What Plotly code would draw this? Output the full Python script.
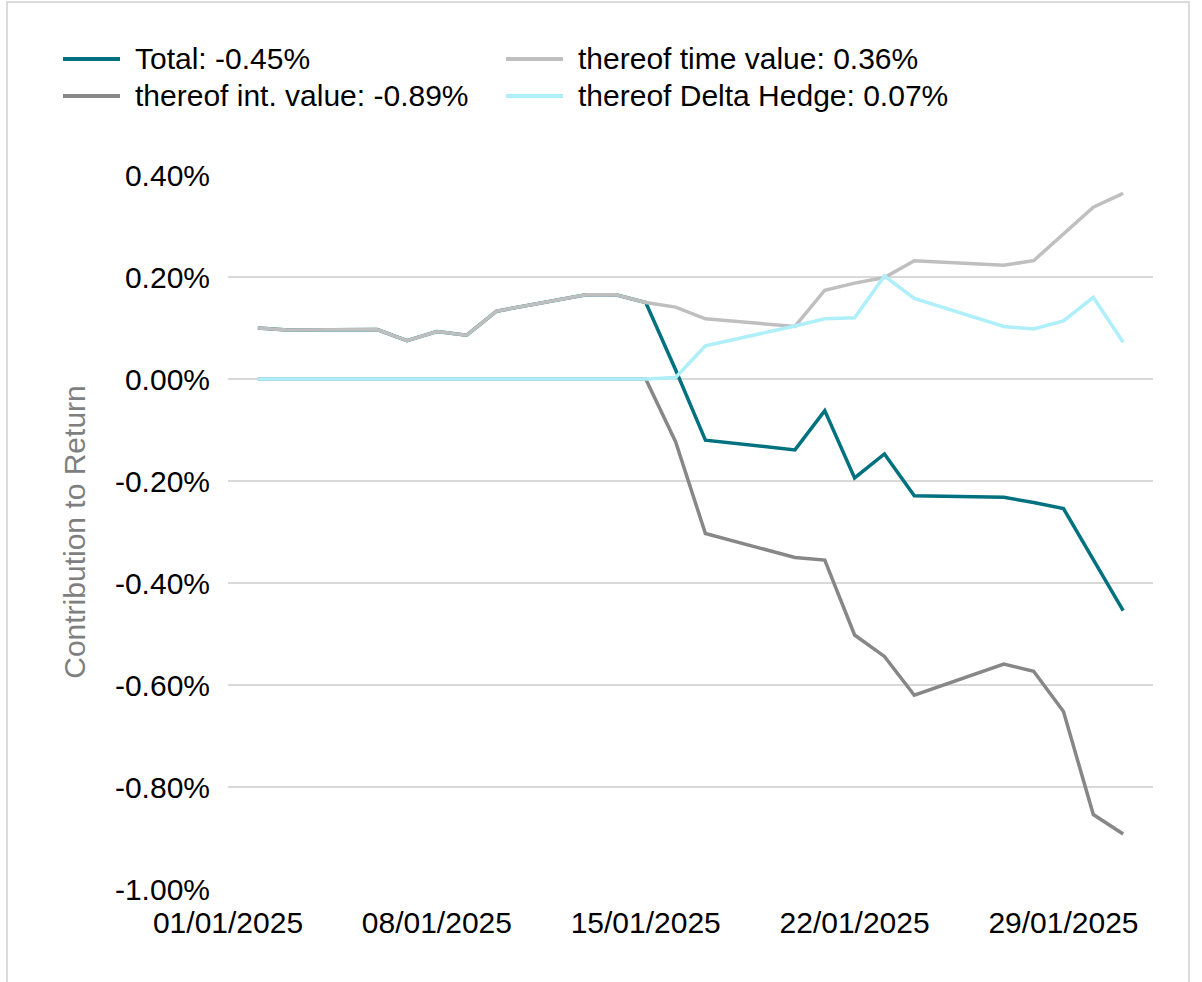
import plotly.graph_objects as go

# ---- data (values in percent) ----
dates = ["2025-01-02", "2025-01-03", "2025-01-06", "2025-01-07", "2025-01-08", "2025-01-09",
         "2025-01-10", "2025-01-13", "2025-01-14", "2025-01-15", "2025-01-16", "2025-01-17",
         "2025-01-20", "2025-01-21", "2025-01-22", "2025-01-23", "2025-01-24", "2025-01-27",
         "2025-01-28", "2025-01-29", "2025-01-30", "2025-01-31"]

total = [0.100, 0.096, 0.097, 0.075, 0.093, 0.086, 0.133, 0.165, 0.165, 0.150, 0.018, -0.120,
         -0.139, -0.062, -0.194, -0.147, -0.229, -0.232, -0.242, -0.254, -0.354, -0.454]
int_value = [0.0, 0.0, 0.0, 0.0, 0.0, 0.0, 0.0, 0.0, 0.0, 0.0, -0.123, -0.303,
             -0.350, -0.355, -0.502, -0.544, -0.620, -0.559, -0.573, -0.652, -0.854, -0.892]
time_value = [0.100, 0.096, 0.097, 0.075, 0.093, 0.086, 0.133, 0.165, 0.165, 0.150, 0.141, 0.118,
              0.103, 0.174, 0.188, 0.199, 0.232, 0.223, 0.232, 0.284, 0.337, 0.364]
delta_hedge = [0.0, 0.0, 0.0, 0.0, 0.0, 0.0, 0.0, 0.0, 0.0, 0.0, 0.003, 0.065,
               0.104, 0.118, 0.120, 0.202, 0.158, 0.103, 0.098, 0.114, 0.160, 0.072]

series_names = ["Total", "thereof int. value", "thereof time value", "thereof Delta Hedge"]
series_values = [total, int_value, time_value, delta_hedge]
series_colors = ["#00717F", "#878787", "#BFBFBF", "#AEEFFA"]

y_ticks = [-1.0, -0.8, -0.6, -0.4, -0.2, 0.0, 0.2, 0.4]
y_tick_labels = ["-1.00%", "-0.80%", "-0.60%", "-0.40%", "-0.20%", "0.00%", "0.20%", "0.40%"]
x_ticks = ["2025-01-01", "2025-01-08", "2025-01-15", "2025-01-22", "2025-01-29"]
x_tick_labels = ["01/01/2025", "08/01/2025", "15/01/2025", "22/01/2025", "29/01/2025"]
y_title = "Contribution to Return"

# ---- layout geometry (pixels) ----
W, H = 1202, 982
L, R, T, B = 228, 49, 175, 93
PW, PH = W - L - R, H - T - B


def px_x(x):
    return (x - L) / PW


def px_y(y):
    return (H - B - y) / PH


FONT = "Liberation Sans, Arial, sans-serif"
FS = 30

fig = go.Figure()
for name, vals, col in zip(series_names, series_values, series_colors):
    fig.add_trace(go.Scatter(x=dates, y=vals, mode="lines", name=name,
                             line=dict(color=col, width=3.5), showlegend=False))

# custom legend (2 columns x 2 rows)
legend_slots = {
    "Total": (63, 59),
    "thereof int. value": (63, 96),
    "thereof time value": (506, 59),
    "thereof Delta Hedge": (506, 96),
}
shapes = []
annotations = []
for name, vals, col in zip(series_names, series_values, series_colors):
    sx, sy = legend_slots[name]
    shapes.append(dict(type="line", xref="paper", yref="paper",
                       x0=px_x(sx), x1=px_x(sx + 57), y0=px_y(sy), y1=px_y(sy),
                       line=dict(color=col, width=4)))
    annotations.append(dict(xref="paper", yref="paper", x=px_x(sx + 70), y=px_y(sy),
                            xanchor="left", yanchor="middle", showarrow=False,
                            text=f"{name}: {vals[-1]:.2f}%",
                            font=dict(family=FONT, size=FS, color="#000000")))

# outer frame
shapes.append(dict(type="rect", xref="paper", yref="paper",
                   x0=px_x(7), x1=px_x(1189), y0=px_y(1000), y1=px_y(2),
                   line=dict(color="#CFCFCF", width=1.5), fillcolor="rgba(0,0,0,0)",
                   layer="below"))

fig.update_layout(
    width=W, height=H,
    margin=dict(l=L, r=R, t=T, b=B, pad=0),
    paper_bgcolor="white", plot_bgcolor="white",
    font=dict(family=FONT, size=FS, color="#000000"),
    shapes=shapes, annotations=annotations,
    showlegend=False,
    xaxis=dict(type="date", range=["2025-01-01", "2025-02-01"],
               tickvals=x_ticks, ticktext=x_tick_labels,
               showgrid=False, zeroline=False, showline=False,
               ticks="", ticklabelstandoff=13,
               tickfont=dict(family=FONT, size=FS, color="#000000")),
    yaxis=dict(range=[-1.0, 0.4], tickvals=y_ticks, ticktext=y_tick_labels,
               showgrid=True, gridcolor="#D9D9D9", gridwidth=2,
               zeroline=False, showline=False, ticks="", ticklabelstandoff=17,
               tickfont=dict(family=FONT, size=FS, color="#000000"),
               title=dict(text=y_title, standoff=20,
                          font=dict(family=FONT, size=FS, color="#7F7F7F"))),
)

fig.write_html("out.html", config={"displayModeBar": False},
               post_script="document.body.style.margin='0';")
